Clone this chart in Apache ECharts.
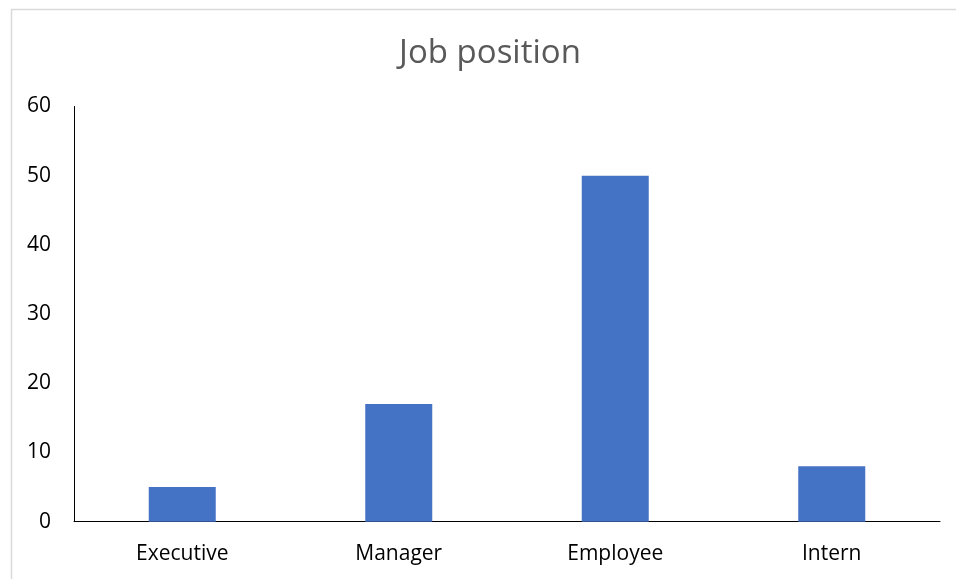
<!DOCTYPE html>
<html>
<head>
<meta charset="utf-8">
<script src="https://cdn.jsdelivr.net/npm/echarts@6/dist/echarts.min.js"></script>
<style>
  html, body { margin: 0; padding: 0; background: #fff; }
  #chart { width: 956px; height: 579px; }
</style>
</head>
<body>
<div id="chart"></div>
<script>
// Headcount by job position
const categories = ['Executive', 'Manager', 'Employee', 'Intern'];
const counts = [5, 17, 50, 8];
const yTicks = [0, 10, 20, 30, 40, 50, 60];

const chart = echarts.init(document.getElementById('chart'), null, { renderer: 'canvas' });
const font = '"Open Sans", "Noto Sans", sans-serif';

chart.setOption({
  backgroundColor: '#ffffff',
  animation: false,
  graphic: [{
    type: 'rect',
    left: 9, top: 7,
    shape: { width: 1000, height: 620 },
    style: { fill: 'none', stroke: '#d9d9d9', lineWidth: 1.5 },
    silent: true
  }],
  title: {
    text: 'Job position',
    left: 485, top: 32,
    textAlign: 'center',
    textStyle: { fontFamily: font, fontSize: 33, fontWeight: 'normal', color: '#595959' }
  },
  grid: { left: 74, right: 16, top: 106.5, bottom: 57.3, containLabel: false },
  xAxis: {
    type: 'category',
    data: categories,
    axisLine: { show: true, lineStyle: { color: '#000000', width: 1 } },
    axisTick: { show: false },
    axisLabel: { fontFamily: font, fontSize: 21, color: '#000000', margin: 22 },
    splitLine: { show: false }
  },
  yAxis: {
    type: 'value',
    min: yTicks[0],
    max: yTicks[yTicks.length - 1],
    interval: yTicks[1] - yTicks[0],
    axisLine: { show: true, lineStyle: { color: '#000000', width: 1 } },
    axisTick: { show: false },
    axisLabel: { fontFamily: font, fontSize: 21, color: '#000000', margin: 23 },
    splitLine: { show: false }
  },
  series: [{
    type: 'bar',
    data: counts,
    barWidth: 67,
    itemStyle: { color: '#4472C4' }
  }]
});
</script>
</body>
</html>
